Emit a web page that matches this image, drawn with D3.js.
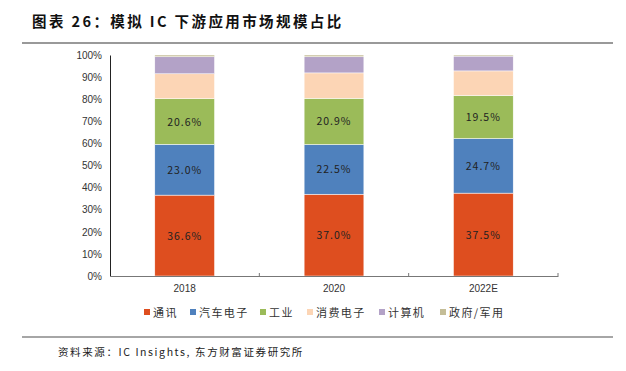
<!DOCTYPE html>
<html>
<head>
<meta charset="utf-8">
<script src="https://cdn.jsdelivr.net/npm/d3@7"></script>
<style>
  body { margin: 0; background: #fff; }
  svg { display: block; }
</style>
</head>
<body>
<div id="chart"></div>
<script>
// Data
var years = ["2018", "2020", "2022E"];
var seriesNames = ["通讯", "汽车电子", "工业", "消费电子", "计算机", "政府/军用"];
var colors = ["#DE4E1F", "#4F81BD", "#9BBB59", "#FCD5B5", "#B3A2C7", "#C4BD97"];
var tongxun = [36.6, 37.0, 37.5];
var qiche = [23.0, 22.5, 24.7];
var gongye = [20.6, 20.9, 19.5];
var xiaofei = [11.3, 11.5, 11.1];
var jisuanji = [7.7, 7.3, 6.7];
var zhengfu = [0.8, 0.8, 0.5];
var yTicks = [0, 10, 20, 30, 40, 50, 60, 70, 80, 90, 100];
var labelled = [0, 1, 2];

var seriesValues = [tongxun, qiche, gongye, xiaofei, jisuanji, zhengfu];
var rows = years.map(function(y, i) {
  var r = {year: y};
  seriesNames.forEach(function(s, j) { r[s] = seriesValues[j][i]; });
  return r;
});

var W = 626, H = 371;
var margin = {top: 55, left: 110, right: 68, bottom: 95};
var width = W - margin.left - margin.right,
    height = H - margin.top - margin.bottom;

var svg = d3.select("#chart").append("svg")
  .attr("width", W).attr("height", H);

// Title and rules
svg.append("text")
  .attr("x", 32).attr("y", 27)
  .attr("font-family", "'Noto Sans CJK SC'")
  .attr("font-weight", "bold")
  .attr("font-size", 14.5)
  .attr("letter-spacing", 2.4)
  .attr("fill", "#111")
  .text("图表 26：模拟 IC 下游应用市场规模占比");
svg.append("line").attr("x1", 22).attr("x2", 613).attr("y1", 43).attr("y2", 43)
  .attr("stroke", "#777").attr("stroke-width", 1.5);
svg.append("line").attr("x1", 22).attr("x2", 613).attr("y1", 337).attr("y2", 337)
  .attr("stroke", "#888").attr("stroke-width", 1.5);
svg.append("text")
  .attr("x", 58).attr("y", 356)
  .attr("font-family", "'Noto Sans CJK SC'")
  .attr("font-size", 10.5)
  .attr("letter-spacing", 1.6)
  .attr("fill", "#222")
  .text("资料来源：IC Insights, 东方财富证券研究所");

var g = svg.append("g").attr("transform", `translate(${margin.left},${margin.top})`);

var x = d3.scaleBand().domain(years).range([0, width]).paddingInner(0.6).paddingOuter(0.3);
var xAxisScale = d3.scaleBand().domain(years).range([0, width]);
var y = d3.scaleLinear().domain([0, 100]).range([height, 0]);

var stack = d3.stack().keys(seriesNames);
var stacked = stack(rows);

g.selectAll("g.series")
  .data(stacked)
  .enter().append("g")
    .attr("fill", function(d, i) { return colors[i]; })
  .selectAll("rect")
  .data(function(d) { return d; })
  .enter().append("rect")
    .attr("x", function(d) { return x(d.data.year); })
    .attr("width", x.bandwidth())
    .attr("y", function(d) { return y(d[1]); })
    .attr("height", function(d) { return y(d[0]) - y(d[1]); })
    .attr("stroke", "#fff")
    .attr("stroke-width", 0.5);

// Data labels
labelled.forEach(function(si) {
  g.selectAll(null)
    .data(stacked[si])
    .enter().append("text")
      .attr("x", function(d) { return x(d.data.year) + x.bandwidth() / 2; })
      .attr("y", function(d) { return y((d[0] + d[1]) / 2) + 4; })
      .attr("text-anchor", "middle")
      .attr("font-family", "'Noto Sans CJK SC'")
      .attr("font-size", 10.5)
      .attr("letter-spacing", 1)
      .attr("fill", "#222")
      .text(function(d) { return (d[1] - d[0]).toFixed(1) + "%"; });
});

// Y axis
var yAxis = g.append("g")
  .call(d3.axisLeft(y).tickValues(yTicks).tickSize(0).tickPadding(8)
    .tickFormat(function(d) { return d + "%"; }));
yAxis.select(".domain").attr("stroke", "#222");
yAxis.selectAll("text")
  .attr("font-family", "'Liberation Sans'")
  .attr("font-size", 10)
  .attr("fill", "#333");

// X axis
var xAxis = g.append("g")
  .attr("transform", `translate(0,${height})`)
  .call(d3.axisBottom(xAxisScale).tickSize(0).tickPadding(9));
xAxis.select(".domain").attr("stroke", "#777").attr("stroke-width", 1.2);
xAxis.selectAll("text")
  .attr("font-family", "'Liberation Sans'")
  .attr("font-size", 10)
  .attr("fill", "#333");
xAxis.selectAll(null)
  .data(years)
  .enter().append("line")
    .attr("x1", function(d) { return xAxisScale(d) + xAxisScale.bandwidth(); })
    .attr("x2", function(d) { return xAxisScale(d) + xAxisScale.bandwidth(); })
    .attr("y1", 0).attr("y2", -3)
    .attr("stroke", "#777");

// Legend
var legendX = [147, 193, 263, 310, 382, 443];
var legend = svg.append("g").attr("transform", "translate(0,313)");
var item = legend.selectAll("g")
  .data(seriesNames)
  .enter().append("g")
    .attr("transform", function(d, i) { return `translate(${legendX[i]},0)`; });
item.append("rect")
  .attr("x", -3).attr("y", -4).attr("width", 6).attr("height", 6)
  .attr("fill", function(d, i) { return colors[i]; });
item.append("text")
  .attr("x", 6).attr("y", 4)
  .attr("font-family", "'Noto Sans CJK SC'")
  .attr("font-size", 11)
  .attr("letter-spacing", 1.4)
  .attr("fill", "#333")
  .text(function(d) { return d; });
</script>
</body>
</html>
